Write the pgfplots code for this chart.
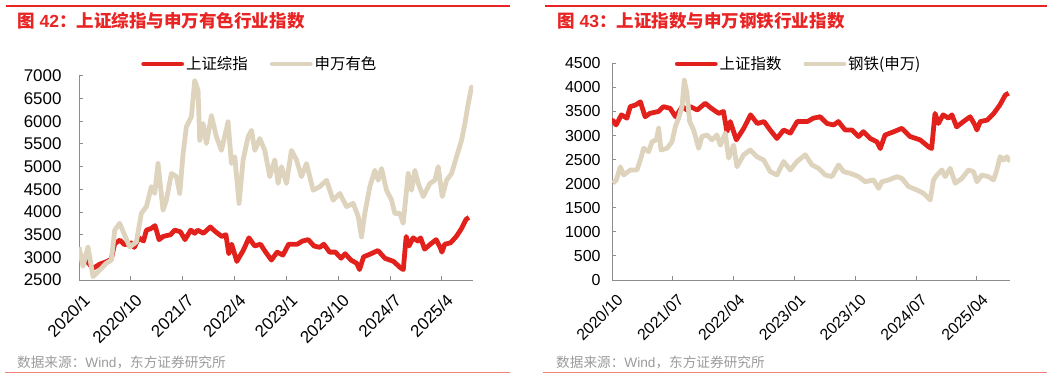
\documentclass[border=0pt]{standalone}
\usepackage{pgfplots}
\pgfplotsset{compat=1.18}
\usepackage{fontspec}
\setmainfont{Liberation Sans}
\newfontfamily\cjk{Noto Sans CJK SC}
\definecolor{sred}{RGB}{226,33,28}
\definecolor{sbeige}{RGB}{222,212,190}
\definecolor{tred}{RGB}{232,36,36}
\definecolor{lred}{RGB}{241,130,120}
\definecolor{srcgray}{RGB}{155,155,155}
\definecolor{axgray}{RGB}{140,140,140}

\pgfplotstableread{
m v
0 3050
0.7 3000
1.6 2880
2.4 2760
3.0 2800
3.6 2850
4.7 2900
5.6 2960
6.2 3300
7.1 3380
7.9 3280
8.8 3300
9.1 3320
9.6 3220
10.4 3430
11.2 3360
11.7 3600
12.5 3635
13.2 3700
13.9 3390
14.6 3460
15.9 3500
16.6 3600
17.6 3565
18.4 3390
19.4 3600
20.1 3530
20.6 3600
21.6 3530
22.8 3670
23.7 3565
24.8 3460
25.5 3500
26.0 3080
26.5 3290
27.4 2910
28.5 3150
29.5 3430
30.5 3250
31.5 3290
32.4 3115
33.4 2940
34.4 3115
35.4 3050
36.4 3290
37.9 3290
38.8 3360
39.8 3390
40.8 3250
41.8 3220
42.5 3290
43.5 3115
44.5 3115
45.5 2980
46.2 3080
47.2 2940
48.2 2870
48.7 2730
49.4 3010
50.7 3080
51.9 3150
53.1 2980
54.6 2910
55.8 2770
56.3 2730
56.8 3460
57.3 3250
58.0 3430
58.8 3360
59.3 3430
60.0 3180
61.0 3290
62.0 3390
62.7 3220
63.0 3115
63.5 3290
64.5 3320
65.5 3460
66.4 3635
67.2 3840
67.7 3880
}\shdata

\pgfplotstableread{
m v
0 3230
0.69 2800
1.56 3230
2.43 2575
3.59 2720
4.75 2870
5.62 2940
6.20 3600
7.06 3750
7.93 3490
8.80 3230
9.96 3340
10.83 3970
11.70 4120
12.57 4560
13.14 4410
13.72 5070
14.59 4040
15.17 4260
16.04 4850
16.91 4780
17.49 4410
18.07 5290
18.64 5880
19.51 6100
20.09 6900
20.67 6680
20.96 5580
21.54 5950
22.12 5510
22.99 6130
23.86 5660
24.73 5360
25.88 5990
26.46 5070
27.04 5220
27.79 4190
28.49 5150
29.36 5660
29.94 5800
30.52 5360
31.38 5620
32.25 5360
33.12 4780
33.99 5150
34.57 4630
35.15 5000
36.02 4630
36.88 5360
37.75 5150
38.62 4780
39.49 5070
40.65 4480
41.81 4560
42.97 4700
44.12 4260
45.28 4410
46.44 4120
47.60 4190
48.47 3900
49.04 3450
49.62 3970
50.49 4560
51.36 4920
51.94 4700
52.52 4960
53.39 4480
54.26 4260
54.83 3970
55.70 3970
56.28 3750
57.15 4850
57.73 4480
58.31 4920
58.89 4630
59.76 4340
60.91 4630
61.78 4700
62.36 5000
63.06 4340
63.81 4700
64.68 4850
65.54 5220
66.41 5580
66.99 5950
67.57 6390
68.15 6760
68.44 6680
}\ysdata

\pgfplotstableread{
m v
9.15 2008
9.64 2077
10.23 2350
10.73 2180
11.71 2285
12.70 2285
13.19 2490
13.68 2735
14.42 2665
14.92 2870
15.56 2910
15.90 3150
16.25 2700
17.14 2735
17.88 2870
18.37 3185
18.86 3360
19.36 3600
19.70 4150
20.09 3880
20.49 3290
21.08 3115
21.82 2735
22.31 2980
23.05 3010
23.79 2910
24.53 3010
25.03 2800
25.77 3050
26.26 2530
27.00 2800
27.49 2350
28.48 2600
29.46 2700
30.45 2560
31.44 2490
32.42 2250
33.41 2180
34.39 2460
35.38 2285
36.37 2460
37.60 2600
38.59 2390
39.57 2320
40.56 2180
41.54 2146
42.53 2390
43.27 2250
44.26 2215
45.49 2146
46.48 2040
47.71 2077
48.45 1904
48.94 2040
49.93 2077
51.16 2146
51.90 2110
52.89 1940
54.12 1870
55.10 1800
56.09 1660
56.58 2077
57.08 2180
57.82 2285
58.31 2146
59.05 2320
59.79 2010
60.78 2110
61.76 2285
62.50 2250
63.00 2040
63.73 2180
64.72 2146
65.46 2077
65.95 2285
66.44 2560
66.94 2490
67.43 2560
67.92 2460
}\gtdata

\pgfplotsset{
  mystyle/.style={
    scale only axis,
    axis x line=bottom, axis y line=left,
    axis line style={-, axgray, line width=1bp},
    tick style={axgray, line width=1bp},
    major tick length=4bp,
    tick align=inside,
    /pgf/number format/assume math mode=true,
    /pgf/number format/1000 sep={},
    xticklabel style={xshift=8bp, yshift=-17bp, rotate=45, anchor=east, inner sep=0pt},
    legend columns=2,
    legend cell align=left,
    legend image code/.code={\draw[##1, line cap=round] (0bp,0bp) -- (38bp,0bp);},
  },
  shline/.style={sred, line width=4.8bp, line join=round},
  bgline/.style={sbeige, line width=4.8bp, line join=round},
}

\begin{document}
\begin{tikzpicture}[x=1bp,y=1bp]
\useasboundingbox (0,0) rectangle (1061,379);
% left panel frame
\draw[tred, line width=1.2bp] (6,373) -- (510,373);
\draw[lred, line width=1.5bp] (5,6.3) -- (510,6.3);
\node[anchor=west, inner sep=0pt, text=tred, font=\bfseries\fontsize{17.6}{18}\selectfont] at (17,358.5) {{\cjk\bfseries 图} 42{\cjk\bfseries ：上证综指与申万有色行业指数}};
\node[anchor=west, inner sep=0pt, text=srcgray, font=\fontsize{13.7}{14}\selectfont] at (17,17) {{\cjk 数据来源：}Wind{\cjk ，东方证券研究所}};
% right panel frame
\draw[tred, line width=1.2bp] (545,373) -- (1047,373);
\draw[lred, line width=1.5bp] (543,6.3) -- (1047,6.3);
\node[anchor=west, inner sep=0pt, text=tred, font=\bfseries\fontsize{17.6}{18}\selectfont] at (557,358.5) {{\cjk\bfseries 图} 43{\cjk\bfseries ：上证指数与申万钢铁行业指数}};
\node[anchor=west, inner sep=0pt, text=srcgray, font=\fontsize{13.7}{14}\selectfont] at (556,17) {{\cjk 数据来源：}Wind{\cjk ，东方证券研究所}};

\begin{axis}[mystyle,
  at={(79bp,99bp)}, anchor=south west,
  width=394bp, height=204bp,
  xmin=0, xmax=68.4, ymin=2500, ymax=7000,
  ytick={2500,3000,...,7000},
  xtick={0,9,18,27,36,45,54,63},
  xticklabels={2020/1,2020/10,2021/7,2022/4,2023/1,2023/10,2024/7,2025/4},
  ticklabel style={font=\fontsize{17}{17}\selectfont},
  yticklabel style={xshift=-14bp},
  legend style={at={(0.459,1.059)}, anchor=center, draw=none, fill=none,
    font=\cjk\fontsize{15.5}{16}\selectfont,
    /tikz/every even column/.append style={column sep=20bp}},
]
\addplot[shline] table[x=m,y=v] {\shdata};
\addlegendentry{上证综指}
\addplot[bgline] table[x=m,y=v] {\ysdata};
\addlegendentry{申万有色}
\end{axis}

\begin{axis}[mystyle,
  at={(612bp,99bp)}, anchor=south west,
  width=398bp, height=216.7bp,
  xmin=9, xmax=67.9, ymin=0, ymax=4500,
  ytick={0,500,...,4500},
  xtick={9,18,27,36,45,54,63},
  xticklabels={2020/10,2021/07,2022/04,2023/01,2023/10,2024/07,2025/04},
  ticklabel style={font=\fontsize{16}{16}\selectfont},
  yticklabel style={xshift=-8bp},
  legend style={at={(0.469,0.997)}, anchor=center, draw=none, fill=none,
    font=\cjk\fontsize{15.5}{16}\selectfont,
    /tikz/every even column/.append style={column sep=20bp}},
]
\addplot[shline] table[x=m,y=v] {\shdata};
\addlegendentry{上证指数}
\addplot[bgline] table[x=m,y=v] {\gtdata};
\addlegendentry{钢铁(申万)}
\end{axis}
\end{tikzpicture}
\end{document}
